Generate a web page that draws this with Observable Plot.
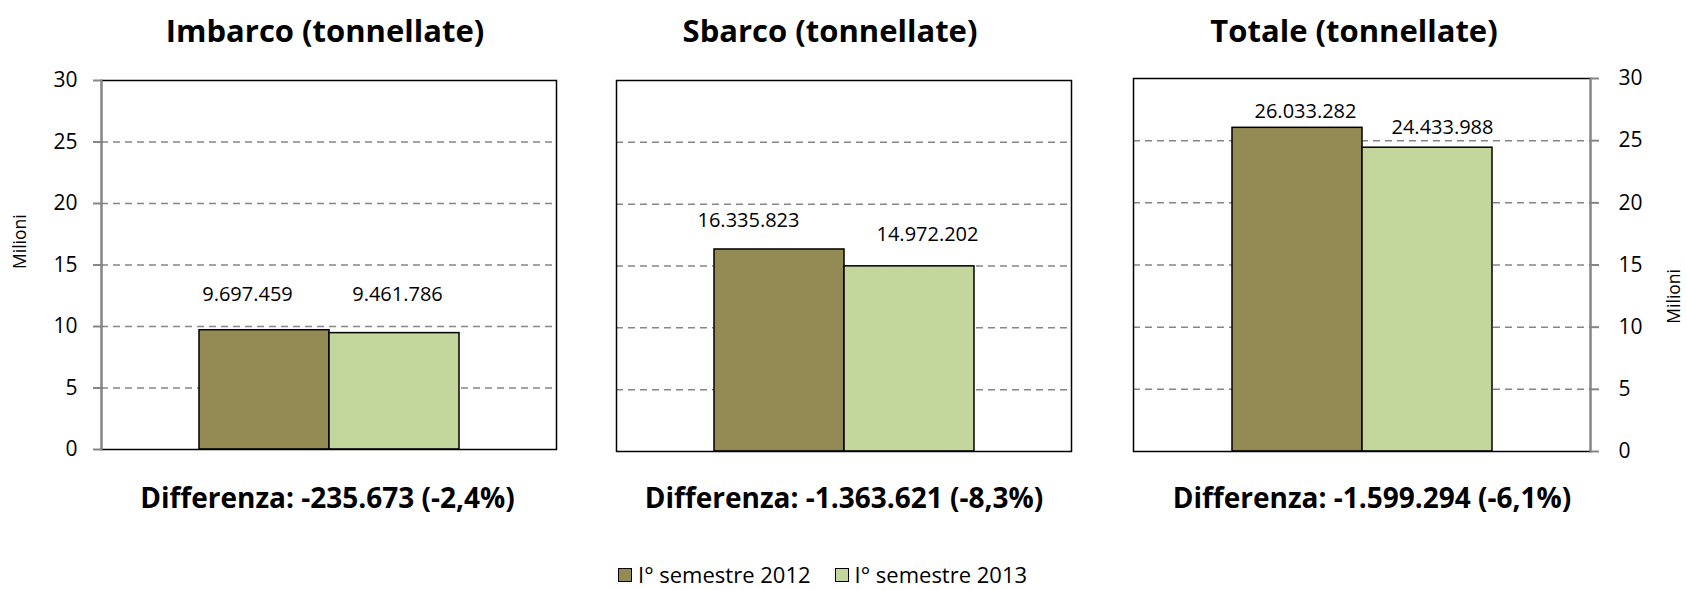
<!DOCTYPE html>
<html>
<head>
<meta charset="utf-8">
<script src="https://cdn.jsdelivr.net/npm/d3@7"></script>
<script src="https://cdn.jsdelivr.net/npm/@observablehq/plot@0.6"></script>
<style>
  html, body { margin: 0; padding: 0; background: #fff; }
  #root { position: relative; width: 1687px; height: 590px; background: #fff; font-family: "Open Sans", Lato, sans-serif; overflow: hidden; }
  #root svg { position: absolute; left: 0; top: 0; }
  .legend { position: absolute; top: 559px; left: 618px; display: flex; align-items: center; font-size: 22px; line-height: 30px; color: #000; white-space: nowrap; }
  .legend .sw { width: 12px; height: 12px; border: 1.5px solid #000; margin-right: 6px; margin-top: 2px; }
  .legend .item { display: flex; align-items: center; margin-right: 24px; }
</style>
</head>
<body>
<div id="root"></div>
<script>
// ---- data ----
const panelTitles = ["Imbarco (tonnellate)", "Sbarco (tonnellate)", "Totale (tonnellate)"];
const series = ["I° semestre 2012", "I° semestre 2013"];
const values2012 = [9697459, 16335823, 26033282];
const values2013 = [9461786, 14972202, 24433988];
const yTicks = [0, 5, 10, 15, 20, 25, 30];
const axisLabel = "Milioni";
const colors = ["#948A54", "#C3D69B"];

// ---- formatting (Italian) ----
const it = d3.formatLocale({decimal: ",", thousands: ".", grouping: [3], currency: ["€", ""], minus: "-"});
const fmtInt = it.format(",d");
const fmtPct = it.format(".1f");

// ---- layout per panel (frame edges in px, label nudges) ----
const W = 1687, H = 590;
const FONT = "'Open Sans', Lato, sans-serif";
const layout = [
  {left: 101, right: 556, top: 80, bottom: 449, axis: "left", tdx: -4, ddx: -1.5, ldx: [-17, 3], ldy: [-36, -39]},
  {left: 616, right: 1071, top: 80, bottom: 451, axis: null, tdx: -14, ddx: 0, ldx: [-31, 18], ldy: [-29, -32]},
  {left: 1133, right: 1590, top: 78, bottom: 451, axis: "right", tdx: -8, ddx: 10, ldx: [8, 15], ldy: [-16, -20]}
];

const root = document.getElementById("root");

panelTitles.forEach((title, i) => {
  const cfg = layout[i];
  const v12 = values2012[i], v13 = values2013[i];
  const data = [
    {series: series[0], raw: v12, value: v12 / 1e6},
    {series: series[1], raw: v13, value: v13 / 1e6}
  ];
  const diff = v13 - v12;
  const diffText = `Differenza: ${fmtInt(diff)} (${fmtPct(diff / v12 * 100)}%)`;

  const marks = [
    Plot.ruleY(yTicks.filter(t => t > yTicks[0] && t < yTicks[yTicks.length - 1]), {stroke: "#868686", strokeWidth: 1.5, strokeDasharray: "7,5"}),
    Plot.barY(data, {x: "series", y: "value", fill: "series", stroke: "#000", strokeWidth: 1.5}),
    Plot.frame({stroke: "#000", strokeWidth: 1.5})
  ];
  if (cfg.axis) {
    marks.push(Plot.frame({anchor: cfg.axis, stroke: "#868686", strokeWidth: 2}));
    marks.push(Plot.axisY(yTicks, {anchor: cfg.axis, tickSize: 8, tickPadding: cfg.axis === "left" ? 16 : 20, stroke: "#868686", strokeWidth: 2, fontSize: 21, tickFormat: d => String(d), label: null}));
    marks.push(Plot.text([axisLabel], {frameAnchor: cfg.axis, dx: cfg.axis === "left" ? -81 : 84, dy: 4, rotate: -90, fontSize: 17.5, fill: "#000"}));
  }
  series.forEach((s, j) => {
    marks.push(Plot.text([data[j]], {x: "series", y: "value", text: d => fmtInt(d.raw), dx: cfg.ldx[j], dy: cfg.ldy[j], fontSize: 20, fill: "#000", lineAnchor: "middle"}));
  });
  marks.push(Plot.text([title], {frameAnchor: "top", dx: cfg.tdx, dy: 32 - cfg.top, fontSize: 31, fontWeight: "bold", fill: "#000", lineAnchor: "middle"}));
  marks.push(Plot.text([diffText], {frameAnchor: "bottom", dx: cfg.ddx, dy: 499 - cfg.bottom, fontSize: 28, fontWeight: "bold", fill: "#000", lineAnchor: "middle"}));

  const svg = Plot.plot({
    width: W, height: H,
    marginLeft: cfg.left, marginRight: W - cfg.right,
    marginTop: cfg.top, marginBottom: H - cfg.bottom,
    x: {domain: series, paddingInner: 0, paddingOuter: 0.75, axis: null},
    y: {domain: [yTicks[0], yTicks[yTicks.length - 1]], axis: null},
    color: {domain: series, range: colors},
    style: {fontFamily: FONT, background: "transparent", overflow: "visible", color: "#000"},
    marks
  });
  root.appendChild(svg);
});

// ---- legend ----
const legend = document.createElement("div");
legend.className = "legend";
series.forEach((s, j) => {
  const item = document.createElement("div");
  item.className = "item";
  const sw = document.createElement("div");
  sw.className = "sw";
  sw.style.background = colors[j];
  const lab = document.createElement("span");
  lab.textContent = s;
  item.appendChild(sw);
  item.appendChild(lab);
  legend.appendChild(item);
});
root.appendChild(legend);
</script>
</body>
</html>
